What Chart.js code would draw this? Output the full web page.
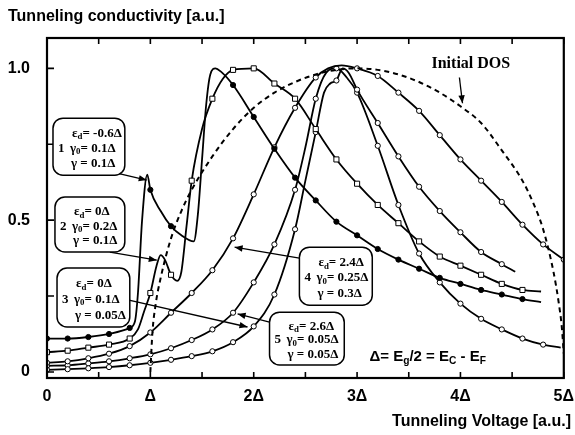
<!DOCTYPE html>
<html>
<head>
<meta charset="utf-8">
<script src="https://cdn.jsdelivr.net/npm/chart.js@4.4.1/dist/chart.umd.min.js"></script>
<style>
  html, body { margin: 0; padding: 0; background: #fff; }
</style>
</head>
<body>
<canvas id="tunChart" width="575" height="435"></canvas>
<script>
// x in units of Delta, y in a.u.
const xTicks = [0, 1, 2, 3, 4, 5];
const xTickLabels = ["0", "Δ", "2Δ", "3Δ", "4Δ", "5Δ"];
const xTickMarks = [0, 0.5, 1, 1.5, 2, 2.5, 3, 3.5, 4, 4.5, 5];
const yTicks = [0, 0.25, 0.5, 0.75, 1.0];
const yTickLabels = ["0", "", "0.5", "", "1.0"];

// initial DOS (dashed)
const dosX = [1.0, 1.02, 1.05, 1.1, 1.2, 1.3, 1.4, 1.6, 1.8, 2.0, 2.2, 2.4, 2.6, 2.8, 3.0, 3.2, 3.4, 3.6, 3.8, 4.0, 4.2, 4.4, 4.6, 4.7, 4.8, 4.9, 4.95, 4.98, 5.0];
const dosY = [0.0, 0.13, 0.22, 0.31, 0.44, 0.53, 0.6, 0.71, 0.8, 0.87, 0.92, 0.955, 0.98, 0.995, 1.0, 0.995, 0.98, 0.955, 0.92, 0.875, 0.82, 0.73, 0.63, 0.56, 0.47, 0.33, 0.23, 0.15, 0.06];

// curve 1: ed=-0.6, g0=0.1, g=0.1
const c1X = [0, 0.2, 0.4, 0.6, 0.8, 0.85, 0.88, 0.92, 0.97, 1.0, 1.1, 1.2, 1.3, 1.42, 1.46, 1.5, 1.54, 1.58, 1.63, 1.68, 1.8, 2.0, 2.2, 2.4, 2.6, 2.8, 3.0, 3.2, 3.4, 3.6, 3.8, 4.0, 4.2, 4.4, 4.6, 4.78];
const c1Y = [0.11, 0.11, 0.115, 0.125, 0.145, 0.165, 0.26, 0.5, 0.65, 0.6, 0.53, 0.48, 0.45, 0.43, 0.52, 0.7, 0.88, 0.98, 1.0, 0.99, 0.945, 0.84, 0.735, 0.64, 0.565, 0.495, 0.45, 0.405, 0.37, 0.34, 0.31, 0.29, 0.27, 0.255, 0.24, 0.23];

// curve 2: ed=0, g0=0.2, g=0.1
const c2X = [0, 0.2, 0.4, 0.6, 0.8, 0.88, 0.94, 1.0, 1.06, 1.1, 1.14, 1.2, 1.26, 1.3, 1.35, 1.4, 1.5, 1.6, 1.7, 1.8, 2.0, 2.2, 2.4, 2.6, 2.8, 3.0, 3.2, 3.4, 3.6, 3.8, 4.0, 4.2, 4.4, 4.6, 4.78];
const c2Y = [0.065, 0.07, 0.08, 0.09, 0.11, 0.14, 0.2, 0.26, 0.35, 0.385, 0.37, 0.32, 0.3, 0.33, 0.48, 0.63, 0.8, 0.9, 0.965, 0.995, 1.0, 0.95, 0.9, 0.8, 0.7, 0.62, 0.55, 0.49, 0.43, 0.38, 0.35, 0.32, 0.29, 0.27, 0.265];

// curve 3: ed=0, g0=0.1, g=0.05
const c3X = [0, 0.2, 0.4, 0.6, 0.8, 1.0, 1.2, 1.4, 1.6, 1.8, 2.0, 2.2, 2.4, 2.5, 2.6, 2.68, 2.74, 2.8, 2.86, 2.92, 3.0, 3.2, 3.4, 3.6, 3.8, 4.0, 4.2, 4.4, 4.53];
const c3Y = [0.007, 0.009, 0.012, 0.016, 0.022, 0.03, 0.04, 0.052, 0.068, 0.098, 0.15, 0.255, 0.47, 0.63, 0.79, 0.92, 0.95, 0.96, 1.0, 0.985, 0.93, 0.82, 0.71, 0.61, 0.53, 0.46, 0.395, 0.355, 0.33];

// curve 4: ed=2.4, g0=0.25, g=0.3
const c4X = [0, 0.2, 0.4, 0.6, 0.8, 1.0, 1.2, 1.4, 1.6, 1.8, 2.0, 2.2, 2.4, 2.6, 2.72, 2.85, 3.0, 3.2, 3.4, 3.6, 3.8, 4.0, 4.2, 4.4, 4.6, 4.8, 5.0];
const c4Y = [0.03, 0.035, 0.045, 0.06, 0.085, 0.13, 0.195, 0.26, 0.335, 0.44, 0.585, 0.74, 0.87, 0.97, 1.0, 1.01, 1.0, 0.975, 0.92, 0.86, 0.78, 0.7, 0.63, 0.56, 0.485, 0.42, 0.37];

// curve 5: ed=2.6, g0=0.05, g=0.05
const c5X = [0, 0.2, 0.4, 0.6, 0.8, 1.0, 1.2, 1.4, 1.6, 1.8, 2.0, 2.2, 2.4, 2.5, 2.6, 2.7, 2.8, 2.9, 3.0, 3.2, 3.4, 3.6, 3.8, 4.0, 4.2, 4.4, 4.6, 4.8, 4.97];
const c5Y = [0.02, 0.022, 0.028, 0.035, 0.045, 0.058, 0.078, 0.105, 0.14, 0.195, 0.295, 0.42, 0.6, 0.74, 0.9, 0.985, 1.0, 0.97, 0.92, 0.745, 0.55, 0.39, 0.295, 0.225, 0.175, 0.14, 0.11, 0.09, 0.08];

// parameter boxes: label number, eps_d, gamma0, gamma
const boxNums = ["1", "2", "3", "4", "5"];
const boxEps = ["-0.6Δ", "0Δ", "0Δ", "2.4Δ", "2.6Δ"];
const boxG0 = ["0.1Δ", "0.2Δ", "0.1Δ", "0.25Δ", "0.05Δ"];
const boxG = ["0.1Δ", "0.1Δ", "0.05Δ", "0.3Δ", "0.05Δ"];

// box placement (data units): [x0, x1, yTop, yBottom], arrow [fromX, fromY, tipX, tipY]
const boxPlace = [
  [0.058, 0.753, 0.836, 0.648],
  [0.077, 0.753, 0.576, 0.395],
  [0.097, 0.801, 0.342, 0.148],
  [2.442, 3.147, 0.411, 0.220],
  [2.153, 2.876, 0.197, 0.023]
];
const boxArrows = [
  [0.676, 0.655, 0.965, 0.632],
  [0.608, 0.395, 1.062, 0.368],
  [0.782, 0.237, 1.94, 0.148],
  [2.442, 0.375, 1.815, 0.411],
  [2.153, 0.164, 1.844, 0.191]
];

const zip = (xs, ys) => xs.map((v, i) => ({ x: v, y: ys[i] }));
const onGrid = v => Math.abs(v * 5 - Math.round(v * 5)) < 1e-6;

function curve(xs, ys, style, r, fill) {
  return {
    data: zip(xs, ys),
    showLine: true,
    borderColor: "#000",
    borderWidth: 1.8,
    cubicInterpolationMode: "monotone",
    pointStyle: style,
    pointRadius: c => (onGrid(c.raw.x) ? r : 0),
    pointBackgroundColor: fill,
    pointBorderColor: "#000",
    pointBorderWidth: 1,
    pointHoverRadius: 0
  };
}

const serif = "'Liberation Serif', 'Times New Roman', serif";
const sans = "'Liberation Sans', Arial, sans-serif";

function rich(ctx, parts, x, y, size, family) {
  let cx = x;
  parts.forEach(p => {
    const s = p.sub ? size * 0.68 : size;
    ctx.font = "bold " + s + "px " + family;
    ctx.fillText(p.t, cx, y + (p.sub ? size * 0.28 : 0));
    cx += ctx.measureText(p.t).width;
  });
}

function roundBox(ctx, x0, y0, x1, y1, r) {
  ctx.beginPath();
  ctx.moveTo(x0 + r, y0);
  ctx.arcTo(x1, y0, x1, y1, r);
  ctx.arcTo(x1, y1, x0, y1, r);
  ctx.arcTo(x0, y1, x0, y0, r);
  ctx.arcTo(x0, y0, x1, y0, r);
  ctx.closePath();
}

function arrow(ctx, fx, fy, tx, ty) {
  ctx.lineWidth = 1.3;
  ctx.beginPath();
  ctx.moveTo(fx, fy);
  ctx.lineTo(tx, ty);
  ctx.stroke();
  const a = Math.atan2(ty - fy, tx - fx);
  const L = 8, W = 3.2;
  ctx.beginPath();
  ctx.moveTo(tx, ty);
  ctx.lineTo(tx - L * Math.cos(a) + W * Math.sin(a), ty - L * Math.sin(a) - W * Math.cos(a));
  ctx.lineTo(tx - L * Math.cos(a) - W * Math.sin(a), ty - L * Math.sin(a) + W * Math.cos(a));
  ctx.closePath();
  ctx.fill();
}

const decor = {
  id: "decor",
  afterDatasetsDraw(chart) {
    const { ctx, chartArea: a, scales: { x, y } } = chart;
    ctx.save();
    ctx.strokeStyle = "#000";
    ctx.fillStyle = "#000";

    // inward tick marks
    ctx.lineWidth = 1.6;
    ctx.beginPath();
    xTickMarks.forEach(v => {
      const px = x.getPixelForValue(v);
      ctx.moveTo(px, a.bottom); ctx.lineTo(px, a.bottom - 6);
      ctx.moveTo(px, a.top); ctx.lineTo(px, a.top + 6);
    });
    yTicks.forEach(v => {
      const py = y.getPixelForValue(v);
      ctx.moveTo(a.left, py); ctx.lineTo(a.left + 7, py);
    });
    ctx.stroke();

    // frame
    ctx.lineWidth = 2.2;
    ctx.strokeRect(a.left, a.top, a.right - a.left, a.bottom - a.top);

    // parameter boxes
    ctx.textBaseline = "middle";
    ctx.textAlign = "left";
    boxPlace.forEach((b, i) => {
      const ar = boxArrows[i];
      arrow(ctx, x.getPixelForValue(ar[0]), y.getPixelForValue(ar[1]),
                 x.getPixelForValue(ar[2]), y.getPixelForValue(ar[3]));
      const x0 = x.getPixelForValue(b[0]), x1 = x.getPixelForValue(b[1]);
      const y0 = y.getPixelForValue(b[2]), y1 = y.getPixelForValue(b[3]);
      roundBox(ctx, x0, y0, x1, y1, 10);
      ctx.fillStyle = "#fff";
      ctx.fill();
      ctx.lineWidth = 1.5;
      ctx.stroke();
      ctx.fillStyle = "#000";
      const h = y1 - y0;
      const tx = x0 + 17;
      rich(ctx, [{ t: "ε" }, { t: "d", sub: true }, { t: "= " + boxEps[i] }], tx + 2, y0 + h * 0.27, 13, serif);
      rich(ctx, [{ t: boxNums[i] }], x0 + 5, y0 + h * 0.53, 13, serif);
      rich(ctx, [{ t: "γ" }, { t: "0", sub: true }, { t: "= " + boxG0[i] }], tx, y0 + h * 0.53, 13, serif);
      rich(ctx, [{ t: "γ = " + boxG[i] }], tx + 1, y0 + h * 0.8, 13, serif);
    });

    // initial DOS label
    ctx.font = "bold 16px " + serif;
    ctx.fillText("Initial DOS", x.getPixelForValue(3.72), y.getPixelForValue(1.015));
    arrow(ctx, x.getPixelForValue(3.99), y.getPixelForValue(0.97),
               x.getPixelForValue(4.02), y.getPixelForValue(0.885));

    // gap relation
    rich(ctx, [{ t: "Δ= E" }, { t: "g", sub: true }, { t: "/2 = E" }, { t: "C", sub: true },
               { t: " - E" }, { t: "F", sub: true }],
         x.getPixelForValue(3.12), y.getPixelForValue(0.05), 15, sans);

    // axis titles
    ctx.font = "bold 16px " + sans;
    ctx.fillText("Tunneling conductivity [a.u.]", 8, 17);
    ctx.textAlign = "right";
    ctx.fillText("Tunneling Voltage [a.u.]", 571, 422);
    ctx.restore();
  }
};

new Chart(document.getElementById("tunChart"), {
  type: "scatter",
  data: {
    datasets: [
      {
        data: zip(dosX, dosY),
        showLine: true,
        borderColor: "#000",
        borderWidth: 2,
        borderDash: [5, 4],
        cubicInterpolationMode: "monotone",
        pointRadius: 0
      },
      curve(c1X, c1Y, "circle", 2.6, "#000"),
      curve(c2X, c2Y, "rect", 3.6, "#fff"),
      curve(c3X, c3Y, "circle", 2.6, "#fff"),
      curve(c4X, c4Y, "circle", 2.6, "#fff"),
      curve(c5X, c5Y, "circle", 2.6, "#fff")
    ]
  },
  options: {
    responsive: false,
    animation: false,
    devicePixelRatio: 1,
    layout: { padding: { top: 38, right: 10, left: 0, bottom: 0 } },
    plugins: { legend: { display: false }, tooltip: { enabled: false } },
    scales: {
      x: {
        type: "linear",
        min: 0,
        max: 5,
        afterBuildTicks: s => { s.ticks = xTicks.map(v => ({ value: v })); },
        afterFit: s => { s.height = 57; },
        grid: { display: false },
        border: { display: false },
        ticks: {
          autoSkip: false,
          maxRotation: 0,
          padding: 1,
          color: "#000",
          font: { family: sans, size: 16, weight: "bold" },
          callback: (v, i) => xTickLabels[i]
        }
      },
      y: {
        type: "linear",
        min: -0.02,
        max: 1.1,
        afterBuildTicks: s => { s.ticks = yTicks.map(v => ({ value: v })); },
        afterFit: s => { s.width = 47; },
        grid: { display: false },
        border: { display: false },
        ticks: {
          autoSkip: false,
          padding: 9,
          color: "#000",
          font: { family: sans, size: 16, weight: "bold" },
          callback: (v, i) => yTickLabels[i]
        }
      }
    }
  },
  plugins: [decor]
});
</script>
</body>
</html>
